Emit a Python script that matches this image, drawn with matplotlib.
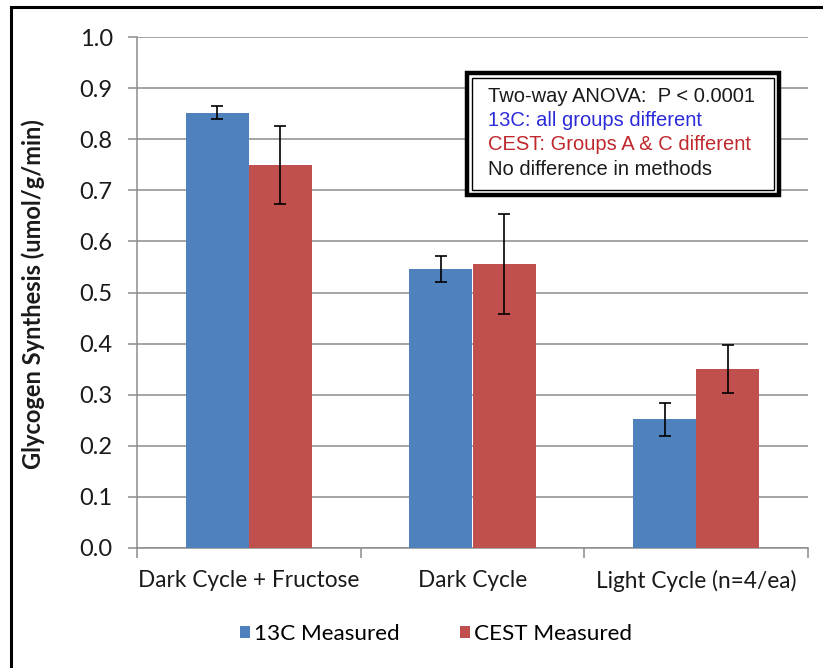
import matplotlib
matplotlib.use("Agg")
import matplotlib.pyplot as plt
from matplotlib.patches import Rectangle
import numpy as np

categories = ["Dark Cycle + Fructose", "Dark Cycle", "Light Cycle (n=4/ea)"]
series_names = ["13C Measured", "CEST Measured"]
c13_values = [0.852, 0.546, 0.252]
c13_errors = [0.013, 0.025, 0.032]
cest_values = [0.750, 0.556, 0.350]
cest_errors = [0.076, 0.098, 0.047]
y_ticks = [0.0, 0.1, 0.2, 0.3, 0.4, 0.5, 0.6, 0.7, 0.8, 0.9, 1.0]
note_lines = [
    ("Two-way ANOVA:  P < 0.0001", "#1a1a1a"),
    ("13C: all groups different", "#2b2bd9"),
    ("CEST: Groups A & C different", "#c0282d"),
    ("No difference in methods", "#1a1a1a"),
]

W, H = 823, 668
BLUE = "#4F81BD"
RED = "#C0504D"
GRID = "#8c8c8c"
LABEL_FONT = ["Lato", "DejaVu Sans"]
NOTE_FONT = ["Liberation Sans", "DejaVu Sans"]


def fx(x):
    return x / W


def fy(y):
    return 1 - y / H


fig = plt.figure(figsize=(W / 100, H / 100), dpi=100)
fig.patch.set_facecolor("white")

# outer chart frame (left and top edges visible)
fig.add_artist(Rectangle((fx(11), fy(700)), fx(830) - fx(11), fy(7) - fy(700),
                         transform=fig.transFigure, fill=False,
                         edgecolor="black", linewidth=2.2, zorder=0))

ax = fig.add_axes([fx(137), fy(548), fx(808) - fx(137), fy(37) - fy(548)])
ax.set_facecolor("none")

x = np.arange(len(categories))
bw = 0.282
err_kw = dict(ecolor="black", elinewidth=1.2, capsize=4.2, capthick=1.2)
ax.bar(x - bw / 2, c13_values, bw, color=BLUE, yerr=c13_errors,
       error_kw=err_kw, label=series_names[0], zorder=3)
ax.bar(x + bw / 2, cest_values, bw, color=RED, yerr=cest_errors,
       error_kw=err_kw, label=series_names[1], zorder=3)

ax.set_xlim(-0.5, len(categories) - 0.5)
ax.set_ylim(0, 1.0)
ax.set_yticks(y_ticks)
ax.set_yticklabels([f"{v:.1f}" for v in y_ticks], fontsize=17,
                   family=LABEL_FONT, color="#1a1a1a")
ax.yaxis.grid(True, color=GRID, linewidth=1.1, zorder=0)
ax.set_axisbelow(True)

ax.set_xticks(x)
ax.set_xticklabels(categories, fontsize=16.3, family=LABEL_FONT, color="#1a1a1a")
ax.tick_params(axis="x", length=0, pad=16)
ax.set_xticks(np.arange(-0.5, len(categories)), minor=True)
ax.tick_params(axis="x", which="minor", length=7, color=GRID, width=1.1)
ax.tick_params(axis="y", length=6.5, color=GRID, width=1.1, pad=11)

for side in ("top", "right"):
    ax.spines[side].set_visible(False)
for side in ("left", "bottom"):
    ax.spines[side].set_color(GRID)
    ax.spines[side].set_linewidth(1.1)

fig.text(fx(33), fy(294), "Glycogen Synthesis (umol/g/min)", rotation=90,
         ha="center", va="center", fontsize=17, fontweight="bold",
         family=LABEL_FONT, color="#1a1a1a")

# legend
leg = fig.legend(loc="center", bbox_to_anchor=(fx(436), fy(634)), ncol=2,
                 frameon=False, handlelength=0.45, handleheight=0.45,
                 handletextpad=0.2, columnspacing=2.65,
                 prop={"family": LABEL_FONT, "size": 16.2})

# statistics note box with double border
fig.add_artist(Rectangle((fx(467), fy(195)), fx(779) - fx(467), fy(73) - fy(195),
                         transform=fig.transFigure, facecolor="white",
                         edgecolor="black", linewidth=3.2, zorder=5))
fig.add_artist(Rectangle((fx(472), fy(190)), fx(774) - fx(472), fy(78) - fy(190),
                         transform=fig.transFigure, fill=False,
                         edgecolor="black", linewidth=1.0, zorder=6))
for i, (txt, col) in enumerate(note_lines):
    fig.text(fx(488), fy(96 + i * 24.5), txt, ha="left", va="center",
             fontsize=14.5, family=NOTE_FONT, color=col, zorder=7)

fig.savefig("out.png", dpi=100, facecolor="white")
